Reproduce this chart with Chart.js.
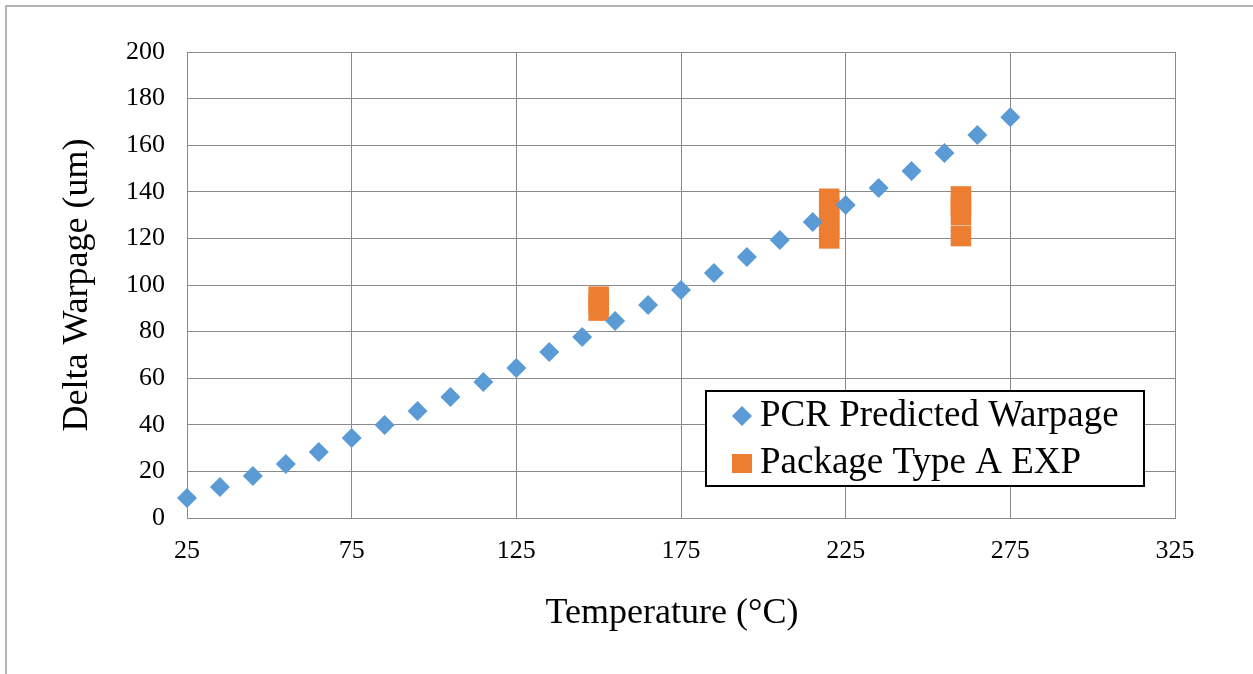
<!DOCTYPE html>
<html>
<head>
<meta charset="utf-8">
<script src="https://cdn.jsdelivr.net/npm/chart.js@4/dist/chart.umd.min.js"></script>
<style>
  body { margin: 0; background: #fff; }
  .frame { position: absolute; left: 5px; top: 5px; width: 1300px; height: 700px; border-left: 2px solid #b4b4b4; border-top: 2px solid #b4b4b4; }
  canvas { position: absolute; left: 0; top: 0; }
</style>
</head>
<body>
<div class="frame"></div>
<canvas id="chart" width="1253" height="674"></canvas>
<script>
// PCR predicted warpage
const predTemps = [25, 35, 45, 55, 65, 75, 85, 95, 105, 115, 125, 135, 145, 155, 165, 175, 185, 195, 205, 215, 225, 235, 245, 255, 265, 275];
const predWarpage = [8.6, 13.3, 18, 23.2, 28.3, 34.3, 39.9, 45.9, 51.9, 58.4, 64.4, 71.2, 77.7, 84.5, 91.4, 97.9, 105.2, 112, 119.3, 127, 134.3, 141.6, 148.9, 156.7, 164.4, 172];
// measured points, package type A
const expTemps = [150, 150, 150, 220, 220, 220, 220, 220, 260, 260, 260, 260];
const expWarpage = [89, 92, 95, 120, 124, 128, 133, 137, 121, 130, 134, 138];

const xTicks = [25, 75, 125, 175, 225, 275, 325];
const yTicks = [0, 20, 40, 60, 80, 100, 120, 140, 160, 180, 200];

const serif = '"Liberation Serif", "Times New Roman", serif';
const gridColor = '#8a8a8a';
const blue = '#5b9bd5';
const orange = '#ed7d31';

// legend box drawn inside the plot, like the office chart
const boxLegend = {
  id: 'boxLegend',
  afterDraw(chart) {
    const ctx = chart.ctx;
    ctx.save();
    ctx.strokeStyle = '#000';
    ctx.lineWidth = 2;
    ctx.fillStyle = '#fff';
    ctx.fillRect(706, 391, 438, 95);
    ctx.strokeRect(706, 391, 438, 95);
    // diamond
    ctx.fillStyle = blue;
    ctx.beginPath();
    ctx.moveTo(742, 406); ctx.lineTo(752, 416); ctx.lineTo(742, 426); ctx.lineTo(732, 416);
    ctx.closePath();
    ctx.fill();
    // square
    ctx.fillStyle = orange;
    ctx.fillRect(732, 454, 20, 19);
    ctx.fillStyle = '#000';
    ctx.font = '37px ' + serif;
    ctx.textBaseline = 'middle';
    ctx.textAlign = 'left';
    ctx.fillText(chart.data.datasets[0].label, 760, 416);
    ctx.fillText(chart.data.datasets[1].label, 760, 463);
    ctx.restore();
  }
};

new Chart(document.getElementById('chart'), {
  type: 'scatter',
  data: {
    datasets: [{
      label: 'PCR Predicted Warpage',
      data: predTemps.map((t, i) => ({ x: t, y: predWarpage[i] })),
      pointStyle: 'rectRot',
      pointRadius: 10,
      pointHoverRadius: 10,
      borderWidth: 0,
      backgroundColor: blue,
      borderColor: blue,
      clip: false
    }, {
      label: 'Package Type A EXP',
      data: expTemps.map((t, i) => ({ x: t, y: expWarpage[i] })),
      pointStyle: 'rect',
      pointRadius: 14.5,
      pointHoverRadius: 14.5,
      borderWidth: 0,
      backgroundColor: orange,
      borderColor: orange,
      clip: false
    }]
  },
  options: {
    responsive: false,
    devicePixelRatio: 1,
    animation: false,
    events: [],
    layout: { padding: { left: 0, top: 52, right: 78, bottom: 0 } },
    plugins: {
      legend: { display: false },
      tooltip: { enabled: false }
    },
    scales: {
      x: {
        type: 'linear',
        min: 25,
        max: 325,
        afterBuildTicks: s => { s.ticks = xTicks.map(v => ({ value: v })); },
        afterFit: s => { s.height = 156; },
        ticks: { padding: 18, color: '#000', font: { family: serif, size: 26 } },
        grid: { color: gridColor, lineWidth: 1, drawTicks: false },
        border: { color: gridColor, width: 1 },
        title: {
          display: true,
          text: 'Temperature (°C)\u00a0\u00a0',
          color: '#000',
          font: { family: serif, size: 36 },
          padding: { top: 0, bottom: 39 }
        }
      },
      y: {
        type: 'linear',
        min: 0,
        max: 200,
        afterBuildTicks: s => { s.ticks = yTicks.map(v => ({ value: v })); },
        afterFit: s => { s.width = 187; },
        ticks: { padding: 22, color: '#000', font: { family: serif, size: 26 } },
        grid: { color: gridColor, lineWidth: 1, drawTicks: false },
        border: { color: gridColor, width: 1 },
        title: {
          display: true,
          text: 'Delta Warpage (um)',
          color: '#000',
          font: { family: serif, size: 36 },
          padding: { top: 56, bottom: 0 }
        }
      }
    }
  },
  plugins: [boxLegend]
});
</script>
</body>
</html>
